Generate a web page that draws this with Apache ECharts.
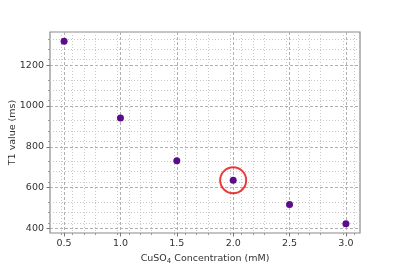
<!DOCTYPE html>
<html>
<head>
<meta charset="utf-8">
<script src="https://cdn.jsdelivr.net/npm/echarts@6/dist/echarts.min.js"></script>
<style>
  html, body { margin: 0; padding: 0; background: #fff; }
  #chart { width: 400px; height: 267px; }
</style>
</head>
<body>
<div id="chart"></div>
<script>
// CuSO4 concentration (mM) vs T1 (ms)
var concentration = [0.5, 1.0, 1.5, 2.0, 2.5, 3.0];
var t1Values = [1317, 941, 732, 636, 518, 423];
var highlightIndex = 3; // circled point
var xTicks = [0.5, 1.0, 1.5, 2.0, 2.5, 3.0];
var yTicks = [400, 600, 800, 1000, 1200];

var points = concentration.map(function (c, i) { return [c, t1Values[i]]; });

var chart = echarts.init(document.getElementById('chart'));
var font = 'DejaVu Sans';

var option = {
    animation: false,
    grid: {
        left: 50, right: 40, top: 32, bottom: 34,
        containLabel: false,
        outerBoundsMode: 'none',
        show: true, borderColor: '#8a8a8a', borderWidth: 1.2, backgroundColor: 'transparent'
    },
    xAxis: {
        type: 'value',
        min: 0.375, max: 3.125,
        interval: 0.5,
        name: '{a|CuSO}{s|4}{a| Concentration (mM)}',
        nameLocation: 'middle',
        nameGap: 20,
        nameMoveOverlap: false,
        nameTextStyle: {
            rich: {
                a: { fontFamily: font, fontSize: 9.5, color: '#333' },
                s: { fontFamily: font, fontSize: 7, color: '#333', padding: [5, 0, 0, 0] }
            }
        },
        axisLine: { show: false },
        axisTick: { show: true, length: 3.5, lineStyle: { color: '#777' },
            customValues: xTicks },
        minorTick: { show: true, splitNumber: 5, length: 2, lineStyle: { color: '#999' } },
        axisLabel: { fontFamily: font, fontSize: 9.5, color: '#333', margin: 6,
            customValues: xTicks,
            formatter: function (v) { return v.toFixed(1); } },
        splitLine: { show: true, lineStyle: { color: '#b0b0b0', type: [3, 2], width: 1 } },
        minorSplitLine: { show: true, lineStyle: { color: '#c8c8c8', type: [1, 2], width: 1 } }
    },
    yAxis: {
        type: 'value',
        min: 378, max: 1362,
        interval: 200,
        name: 'T1 value (ms)',
        nameLocation: 'middle',
        nameGap: 32,
        nameMoveOverlap: false,
        nameTextStyle: { fontFamily: font, fontSize: 9.5, color: '#333' },
        axisLine: { show: false },
        axisTick: { show: true, length: 3.5, lineStyle: { color: '#777' },
            customValues: yTicks },
        minorTick: { show: true, splitNumber: 4, length: 2, lineStyle: { color: '#999' } },
        axisLabel: { fontFamily: font, fontSize: 9.5, color: '#333', margin: 6,
            customValues: yTicks,
            formatter: function (v) { return String(v); } },
        splitLine: { show: true, lineStyle: { color: '#b0b0b0', type: [3, 2], width: 1 } },
        minorSplitLine: { show: true, lineStyle: { color: '#c8c8c8', type: [1, 2], width: 1 } }
    },
    series: [
        {
            type: 'scatter',
            data: points,
            symbolSize: 7,
            itemStyle: { color: '#5c0b8a', opacity: 1 }
        },
        {
            type: 'scatter',
            data: [points[highlightIndex]],
            symbolSize: 26,
            itemStyle: { color: 'transparent', borderColor: '#e60a0a', borderWidth: 2 },
            z: 3
        }
    ]
};
chart.setOption(option);
</script>
</body>
</html>
